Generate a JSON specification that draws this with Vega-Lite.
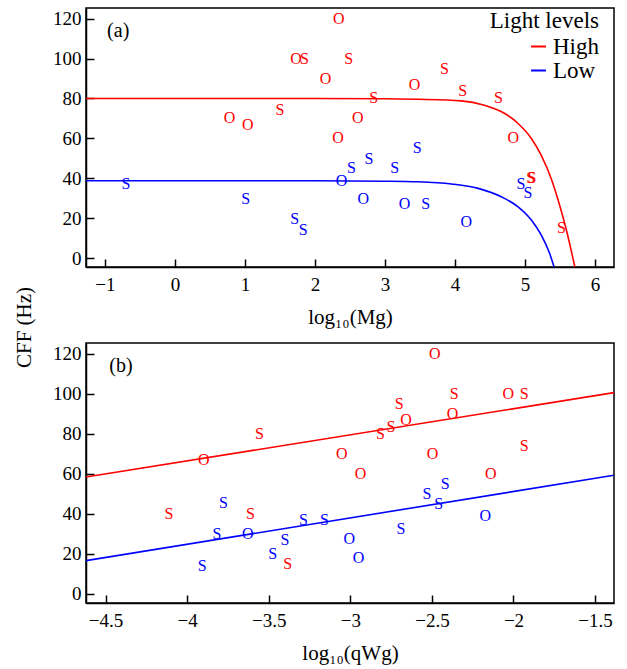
{
  "$schema": "https://vega.github.io/schema/vega-lite/v6.json",
  "padding": {"top": 7, "left": 12, "right": 10, "bottom": 5},
  "bounds": "flush",
  "spacing": 76,
  "datasets": {
    "pa": [
      {"x": 2.34, "y": 120, "level": "High", "lab": "O"},
      {"x": 1.73, "y": 100, "level": "High", "lab": "O"},
      {"x": 1.85, "y": 100, "level": "High", "lab": "S"},
      {"x": 2.48, "y": 100, "level": "High", "lab": "S"},
      {"x": 2.15, "y": 90, "level": "High", "lab": "O"},
      {"x": 1.50, "y": 74, "level": "High", "lab": "S"},
      {"x": 0.78, "y": 70, "level": "High", "lab": "O"},
      {"x": 1.04, "y": 66.7, "level": "High", "lab": "O"},
      {"x": 2.33, "y": 60, "level": "High", "lab": "O"},
      {"x": 2.61, "y": 70, "level": "High", "lab": "O"},
      {"x": 2.84, "y": 80, "level": "High", "lab": "S"},
      {"x": 3.42, "y": 86.7, "level": "High", "lab": "O"},
      {"x": 3.85, "y": 94.7, "level": "High", "lab": "S"},
      {"x": 4.11, "y": 84, "level": "High", "lab": "S"},
      {"x": 4.62, "y": 80, "level": "High", "lab": "S"},
      {"x": 4.83, "y": 60, "level": "High", "lab": "O"},
      {"x": 5.08, "y": 40, "level": "High", "lab": "S"},
      {"x": 5.10, "y": 40, "level": "High", "lab": "S"},
      {"x": 5.52, "y": 15, "level": "High", "lab": "S"},
      {"x": -0.70, "y": 37, "level": "Low", "lab": "S"},
      {"x": 1.01, "y": 29.6, "level": "Low", "lab": "S"},
      {"x": 1.71, "y": 19.6, "level": "Low", "lab": "S"},
      {"x": 1.83, "y": 14, "level": "Low", "lab": "S"},
      {"x": 2.38, "y": 38.8, "level": "Low", "lab": "O"},
      {"x": 2.52, "y": 45.3, "level": "Low", "lab": "S"},
      {"x": 2.77, "y": 49.6, "level": "Low", "lab": "S"},
      {"x": 2.69, "y": 29.6, "level": "Low", "lab": "O"},
      {"x": 3.14, "y": 45, "level": "Low", "lab": "S"},
      {"x": 3.46, "y": 55, "level": "Low", "lab": "S"},
      {"x": 3.28, "y": 27, "level": "Low", "lab": "O"},
      {"x": 3.58, "y": 27, "level": "Low", "lab": "S"},
      {"x": 4.16, "y": 18, "level": "Low", "lab": "O"},
      {"x": 4.94, "y": 37, "level": "Low", "lab": "S"},
      {"x": 5.04, "y": 32.5, "level": "Low", "lab": "S"}
    ],
    "ca": [
      {"x": -1.27, "y": 80, "level": "High"},
      {"x": 0, "y": 80, "level": "High"},
      {"x": 1, "y": 80, "level": "High"},
      {"x": 2, "y": 80, "level": "High"},
      {"x": 3, "y": 79.9, "level": "High"},
      {"x": 3.47, "y": 79.6, "level": "High"},
      {"x": 4.09, "y": 78.8, "level": "High"},
      {"x": 4.42, "y": 76.6, "level": "High"},
      {"x": 4.71, "y": 72.5, "level": "High"},
      {"x": 4.90, "y": 67.5, "level": "High"},
      {"x": 5.09, "y": 60, "level": "High"},
      {"x": 5.23, "y": 51.6, "level": "High"},
      {"x": 5.38, "y": 39.2, "level": "High"},
      {"x": 5.50, "y": 25.8, "level": "High"},
      {"x": 5.59, "y": 14.2, "level": "High"},
      {"x": 5.715, "y": -5, "level": "High"},
      {"x": -1.27, "y": 38.8, "level": "Low"},
      {"x": 0, "y": 38.8, "level": "Low"},
      {"x": 1, "y": 38.8, "level": "Low"},
      {"x": 2, "y": 38.8, "level": "Low"},
      {"x": 3, "y": 38.6, "level": "Low"},
      {"x": 3.47, "y": 38.3, "level": "Low"},
      {"x": 3.95, "y": 37.2, "level": "Low"},
      {"x": 4.33, "y": 35, "level": "Low"},
      {"x": 4.66, "y": 30.8, "level": "Low"},
      {"x": 4.90, "y": 25.8, "level": "Low"},
      {"x": 5.09, "y": 19.2, "level": "Low"},
      {"x": 5.23, "y": 11.7, "level": "Low"},
      {"x": 5.35, "y": 2.5, "level": "Low"},
      {"x": 5.42, "y": -5, "level": "Low"}
    ],
    "pb": [
      {"x": -3.557, "y": 80, "level": "High", "lab": "S"},
      {"x": -3.898, "y": 67, "level": "High", "lab": "O"},
      {"x": -3.053, "y": 69.6, "level": "High", "lab": "O"},
      {"x": -2.482, "y": 120, "level": "High", "lab": "O"},
      {"x": -2.363, "y": 100, "level": "High", "lab": "S"},
      {"x": -2.032, "y": 100, "level": "High", "lab": "O"},
      {"x": -1.934, "y": 100, "level": "High", "lab": "S"},
      {"x": -2.70, "y": 95, "level": "High", "lab": "S"},
      {"x": -2.373, "y": 90, "level": "High", "lab": "O"},
      {"x": -2.659, "y": 87, "level": "High", "lab": "O"},
      {"x": -2.751, "y": 83.3, "level": "High", "lab": "S"},
      {"x": -2.816, "y": 79.7, "level": "High", "lab": "S"},
      {"x": -2.496, "y": 69.6, "level": "High", "lab": "O"},
      {"x": -1.934, "y": 74, "level": "High", "lab": "S"},
      {"x": -2.938, "y": 60, "level": "High", "lab": "O"},
      {"x": -2.139, "y": 60, "level": "High", "lab": "O"},
      {"x": -4.112, "y": 40, "level": "High", "lab": "S"},
      {"x": -3.612, "y": 40, "level": "High", "lab": "S"},
      {"x": -3.384, "y": 15, "level": "High", "lab": "S"},
      {"x": -3.777, "y": 45.5, "level": "Low", "lab": "S"},
      {"x": -3.817, "y": 30, "level": "Low", "lab": "S"},
      {"x": -3.629, "y": 30, "level": "Low", "lab": "O"},
      {"x": -3.908, "y": 13.6, "level": "Low", "lab": "S"},
      {"x": -3.476, "y": 20, "level": "Low", "lab": "S"},
      {"x": -3.40, "y": 27, "level": "Low", "lab": "S"},
      {"x": -3.288, "y": 36.6, "level": "Low", "lab": "S"},
      {"x": -3.159, "y": 36.6, "level": "Low", "lab": "S"},
      {"x": -3.006, "y": 27.5, "level": "Low", "lab": "O"},
      {"x": -2.949, "y": 17.8, "level": "Low", "lab": "O"},
      {"x": -2.69, "y": 32.5, "level": "Low", "lab": "S"},
      {"x": -2.531, "y": 50, "level": "Low", "lab": "S"},
      {"x": -2.418, "y": 55, "level": "Low", "lab": "S"},
      {"x": -2.459, "y": 44.6, "level": "Low", "lab": "S"},
      {"x": -2.173, "y": 39, "level": "Low", "lab": "O"}
    ],
    "cb": [
      {"x": -4.62, "y": 58.3, "level": "High"},
      {"x": -1.384, "y": 100.5, "level": "High"},
      {"x": -4.62, "y": 16.5, "level": "Low"},
      {"x": -1.384, "y": 59.2, "level": "Low"}
    ],
    "la": [{"x": -0.81, "y": 114, "t": "(a)"}],
    "lb": [{"x": -4.406, "y": 114, "t": "(b)"}]
  },
  "resolve": {"scale": {"color": "independent"}, "legend": {"color": "independent"}},
  "config": {
    "font": "Liberation Serif",
    "view": {"stroke": "black", "strokeWidth": 1.5},
    "axis": {
      "labelFont": "Liberation Serif",
      "titleFont": "Liberation Serif",
      "labelFontSize": 19,
      "titleFontSize": 21,
      "titleFontWeight": "normal",
      "labelColor": "black",
      "titleColor": "black",
      "domainColor": "black",
      "domainWidth": 1.5,
      "tickColor": "black",
      "tickWidth": 1.5,
      "tickSize": -8,
      "grid": false
    },
    "axisX": {"labelPadding": 16, "titlePadding": 12},
    "axisY": {"labelPadding": 13, "titlePadding": 18},
    "legend": {
      "labelFont": "Liberation Serif",
      "titleFont": "Liberation Serif",
      "labelFontSize": 23,
      "titleFontSize": 23,
      "titleFontWeight": "normal",
      "labelColor": "black",
      "titleColor": "black"
    }
  },
  "vconcat": [
    {
      "width": 528,
      "height": 259,
      "layer": [
        {
          "data": {"name": "ca"},
          "mark": {"type": "line", "clip": true, "strokeWidth": 1.6, "interpolate": "monotone"},
          "encoding": {
            "x": {"field": "x", "type": "quantitative", "scale": {"domain": [-1.27, 6.27], "nice": false, "zero": false},
                  "axis": {"values": [-1, 0, 1, 2, 3, 4, 5, 6], "format": "~g", "title": "log₁₀(Mg)"}},
            "y": {"field": "y", "type": "quantitative", "scale": {"domain": [-4.35, 125.3], "nice": false, "zero": false},
                  "axis": {"values": [0, 20, 40, 60, 80, 100, 120], "title": "CFF (Hz)", "titleY": 319}},
            "color": {"field": "level", "type": "nominal",
                      "scale": {"domain": ["High", "Low"], "range": ["red", "blue"]},
                      "legend": {"title": "Light levels", "orient": "none", "legendX": 404, "legendY": 2, "symbolType": "stroke", "symbolSize": 220, "symbolStrokeWidth": 2, "symbolOffset": 36, "titleAnchor": "end", "rowPadding": -3, "labelOffset": 3, "titlePadding": 2}}
          }
        },
        {
          "data": {"name": "pa"},
          "mark": {"type": "text", "fontSize": 16, "baseline": "middle", "align": "center"},
          "encoding": {
            "x": {"field": "x", "type": "quantitative"},
            "y": {"field": "y", "type": "quantitative"},
            "text": {"field": "lab"},
            "color": {"field": "level", "type": "nominal"}
          }
        },
        {
          "data": {"name": "la"},
          "mark": {"type": "text", "fontSize": 20, "baseline": "middle", "align": "center", "color": "black"},
          "encoding": {
            "x": {"field": "x", "type": "quantitative"},
            "y": {"field": "y", "type": "quantitative"},
            "text": {"field": "t"}
          }
        }
      ]
    },
    {
      "width": 528,
      "height": 260,
      "layer": [
        {
          "data": {"name": "cb"},
          "mark": {"type": "line", "clip": true, "strokeWidth": 1.6},
          "encoding": {
            "x": {"field": "x", "type": "quantitative", "scale": {"domain": [-4.62, -1.384], "nice": false, "zero": false},
                  "axis": {"values": [-4.5, -4, -3.5, -3, -2.5, -2, -1.5], "format": "~g", "title": "log₁₀(qWg)"}},
            "y": {"field": "y", "type": "quantitative", "scale": {"domain": [-4.65, 125.3], "nice": false, "zero": false},
                  "axis": {"values": [0, 20, 40, 60, 80, 100, 120], "title": null}},
            "color": {"field": "level", "type": "nominal",
                      "scale": {"domain": ["High", "Low"], "range": ["red", "blue"]}, "legend": null}
          }
        },
        {
          "data": {"name": "pb"},
          "mark": {"type": "text", "fontSize": 16, "baseline": "middle", "align": "center"},
          "encoding": {
            "x": {"field": "x", "type": "quantitative"},
            "y": {"field": "y", "type": "quantitative"},
            "text": {"field": "lab"},
            "color": {"field": "level", "type": "nominal", "legend": null}
          }
        },
        {
          "data": {"name": "lb"},
          "mark": {"type": "text", "fontSize": 20, "baseline": "middle", "align": "center", "color": "black"},
          "encoding": {
            "x": {"field": "x", "type": "quantitative"},
            "y": {"field": "y", "type": "quantitative"},
            "text": {"field": "t"}
          }
        }
      ]
    }
  ]
}
